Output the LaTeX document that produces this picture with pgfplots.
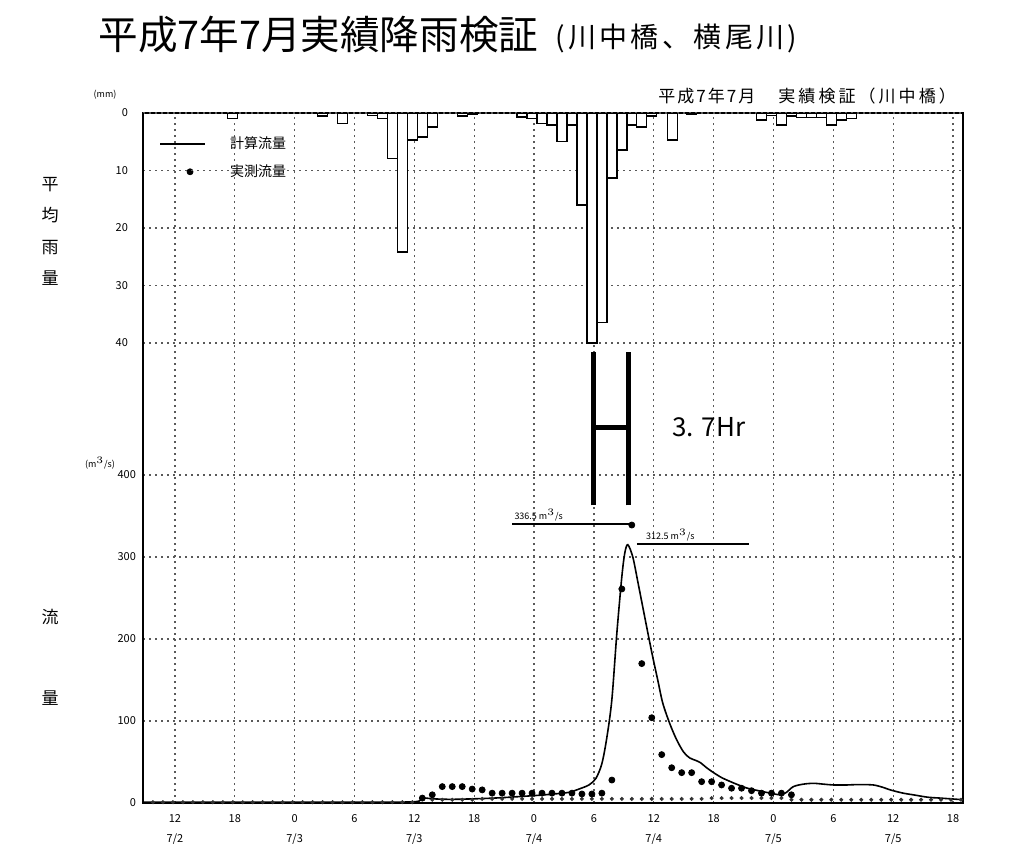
\documentclass[border=0pt]{standalone}
\usepackage{fontspec}
\setmainfont{Noto Sans CJK JP}
\usepackage{pgfplots}
\pgfplotsset{compat=1.18}

% one picture unit: 1 px of the reference = 0.5pt
\pgfplotsset{
  hydro/.style={
    at={(71.5pt,27.5pt)}, anchor=south west,
    scale only axis, width=410pt, height=345pt,
    xmin=8.8, xmax=91,
    tick style={draw=none},
    ticklabel style={font=\fontsize{5.5}{6}\selectfont},
    /pgf/number format/assume math mode=true,
    major grid style={black!65, dash pattern=on 0.8pt off 2.2pt, line width=0.6pt},
  },
  legline/.style={legend image code/.code={\path[draw=none] (0pt,0pt) -- (33pt,0pt); \draw[##1] (0pt,0pt) -- (22.5pt,0pt);}},
  legdot/.style={legend image code/.code={\path[draw=none] (0pt,0pt) -- (33pt,0pt); \draw[##1] plot coordinates {(15pt,0pt)};}},
}

\begin{document}
\begin{tikzpicture}
\useasboundingbox (0,0) rectangle (517.5pt,429pt);

% ---- discharge (lower part) ----
\begin{axis}[hydro,
  ymin=0, ymax=841.5,
  axis line style={line width=0.9pt},
  xtick={12,18,...,90},
  xticklabels={{12\\[4pt]7/2},18,{0\\[4pt]7/3},6,{12\\[4pt]7/3},18,{0\\[4pt]7/4},6,
               {12\\[4pt]7/4},18,{0\\[4pt]7/5},6,{12\\[4pt]7/5},18},
  xticklabel style={align=center, yshift=-2pt},
  ytick={0,100,200,300,400},
  xmajorgrids, ymajorgrids,
  clip=false,
  legend style={at={(0.012,0.978)}, anchor=north west, draw=none, fill=none,
    font=\fontsize{7}{8}\selectfont, row sep=2.5pt},
  legend cell align=left,
]
% base row of small marks
\addplot[only marks, mark=*, mark size=0.8pt, black!80, forget plot] coordinates {
 (9.8,1)(10.8,1)(11.8,1)(12.8,1)(13.8,1)(14.8,1)(15.8,1)(16.8,1)(17.8,1)(18.8,1)
 (19.8,1)(20.8,1)(21.8,1)(22.8,1)(23.8,1)(24.8,1)(25.8,1)(26.8,1)(27.8,1)(28.8,1)
 (29.8,1)(30.8,1)(31.8,1)(32.8,1)(33.8,1)(34.8,1)(35.8,1)
 (36.8,5)(37.8,4)(38.8,4)(39.8,4)(40.8,4)(41.8,4)(42.8,5)(43.8,5)(44.8,5)(45.8,5)
 (46.8,5)(47.8,5)(48.8,5)(49.8,5)(50.8,5)(51.8,5)(52.8,5)(53.8,5)(54.8,5)(55.8,5)
 (56.8,5)(57.8,5)(58.8,5)(59.8,5)(60.8,5)(61.8,5)(62.8,5)(63.8,5)(64.8,5)(65.8,6)
 (66.8,6)(67.8,6)(68.8,6)(69.8,6)(70.8,6)(71.8,6)(72.8,6)(73.8,4)(74.8,4)(75.8,4)
 (76.8,4)(77.8,4)(78.8,4)(79.8,4)(80.8,4)(81.8,4)(82.8,4)(83.8,4)(84.8,4)(85.8,4)
 (86.8,4)(87.8,4)(88.8,4)(89.8,4)(90.8,4)
};
% computed discharge
\addplot[black, line width=0.8pt, smooth, mark=none, legline]
 coordinates {
 (8.8,1)(20,1)(30,1)(36,1.5)(36.8,6)(38,5)(40,4.5)(44,6)(48,9)(50,11)(51.5,13)
 (52.5,17)(53.5,22)(54.2,30)(54.8,48)(55.3,80)(55.8,126)(56.3,207)(56.8,276)
 (57.1,305)(57.4,315)(57.9,300)(58.4,270)(58.9,239)(59.4,208)(59.9,178)(60.4,150)
 (60.9,122)(61.6,97)(62.3,77)(63,62)(63.6,55)(64.2,52)(64.7,49)(65.3,43)(66,37)
 (66.8,31)(67.7,26)(68.5,22)(69.4,18)(70.5,15)(71.7,12)(72.7,10)(73.3,13)(74,20)
 (75,23)(76,24)(77,23)(78,22)(79.4,22)(80.5,22.5)(82,22)(83,19)(83.7,16)(85,12)
 (86,10)(87.5,7)(88.7,6)(91,4)
};
\addlegendentry{計算流量}
% observed discharge
\addplot[only marks, mark=*, mark size=1.5pt, black, legdot]
 coordinates {
 (36.8,6)(37.8,10)(38.8,20)(39.8,20)(40.8,20)(41.8,17)(42.8,16)(43.8,12)(44.8,12)
 (45.8,12)(46.8,12)(47.8,12)(48.8,12)(49.8,12)(50.8,12)(51.8,12)(52.8,11)(53.8,11)
 (54.8,12)(55.8,28)(56.8,261)(57.8,339)(58.8,170)(59.8,104)(60.8,59)(61.8,43)
 (62.8,37)(63.8,37)(64.8,26)(65.8,26)(66.8,22)(67.8,18)(68.8,18)(69.8,15)(70.8,12)
 (71.8,12)(72.8,12)(73.8,10)
};
\addlegendentry{実測流量}

% peak annotations
\draw[line width=0.8pt] (axis cs:45.8,340) -- (axis cs:57.8,340);
\node[anchor=south west, inner sep=1pt, font=\fontsize{4.5}{5}\selectfont]
  at (axis cs:45.8,341) {336.5 m$^3$/s};
\draw[line width=0.8pt] (axis cs:58.3,316) -- (axis cs:69.5,316);
\node[anchor=south west, inner sep=1pt, font=\fontsize{4.5}{5}\selectfont]
  at (axis cs:59.0,317) {312.5 m$^3$/s};
% time lag marker
\draw[line width=2.5pt] (axis cs:53.93,363) -- (axis cs:53.93,550);
\draw[line width=2.5pt] (axis cs:57.44,363) -- (axis cs:57.44,550);
\draw[line width=2.5pt] (axis cs:53.93,458.5) -- (axis cs:57.44,458.5);
\end{axis}

% ---- rainfall (hanging from the top) ----
\begin{axis}[hydro,
  ymin=0, ymax=120, y dir=reverse,
  hide x axis,
  axis y line*=left,
  y axis line style={line width=0.9pt},
  ytick={0,10,20,30,40},
  yticklabel style={xshift=-4pt},
  ymajorgrids,
]
\addplot[ybar, bar width=1, fill=white, draw=black, line width=0.7pt] coordinates {
 (17.8,1.0)(26.8,0.5)(28.8,1.8)(31.8,0.4)(32.8,1.0)(33.8,7.9)(34.8,24.2)(35.8,4.7)
 (36.8,4.2)(37.8,2.4)(40.8,0.5)(41.8,0.3)(46.8,0.7)(47.8,1.0)(48.8,1.8)(49.8,2.1)
 (50.8,5.0)(51.8,2.1)(52.8,16)(53.8,40)(54.8,36.4)(55.8,11.3)(56.8,6.4)(57.8,2.1)
 (58.8,2.4)(59.8,0.5)(61.9,4.7)(63.8,0.3)(70.8,1.2)(71.8,0.4)(72.8,2.1)(73.8,0.5)
 (74.8,0.8)(75.8,0.8)(76.8,0.8)(77.8,2.1)(78.8,1.2)(79.8,1.0)
};
\end{axis}

% ---- texts ----
\node[anchor=west, inner sep=0pt, font=\fontsize{19.8}{21}\selectfont] at (49pt,411.5pt) {平成7年7月実績降雨検証};
\node[anchor=west, inner sep=0pt, font=\fontsize{14}{16}\selectfont\addfontfeature{LetterSpace=12}] at (277.5pt,410pt) {(川中橋、横尾川)};
\node[anchor=west, inner sep=0pt, font=\fontsize{8.5}{9}\selectfont\addfontfeature{LetterSpace=12}] at (329pt,381pt) {平成7年7月};
\node[anchor=west, inner sep=0pt, font=\fontsize{8.5}{9}\selectfont\addfontfeature{LetterSpace=18}] at (389pt,381pt) {実績検証（川中橋）};
\node[anchor=west, inner sep=0pt, font=\fontsize{13}{14}\selectfont] at (336pt,215.5pt) {3. 7Hr};
\node[inner sep=0pt, font=\fontsize{4.5}{5}\selectfont] at (52.5pt,381.5pt) {(mm)};
\node[inner sep=0pt, font=\fontsize{4.5}{5}\selectfont] at (50pt,197.5pt) {(m$^3$/s)};
\begin{scope}[every node/.style={inner sep=0pt, font=\fontsize{8.5}{9}\selectfont}]
\node at (25pt,336.5pt) {平};
\node at (25pt,321.5pt) {均};
\node at (25pt,305pt) {雨};
\node at (25pt,290pt) {量};
\node at (25pt,120.5pt) {流};
\node at (25pt,80pt) {量};
\end{scope}
\end{tikzpicture}
\end{document}
